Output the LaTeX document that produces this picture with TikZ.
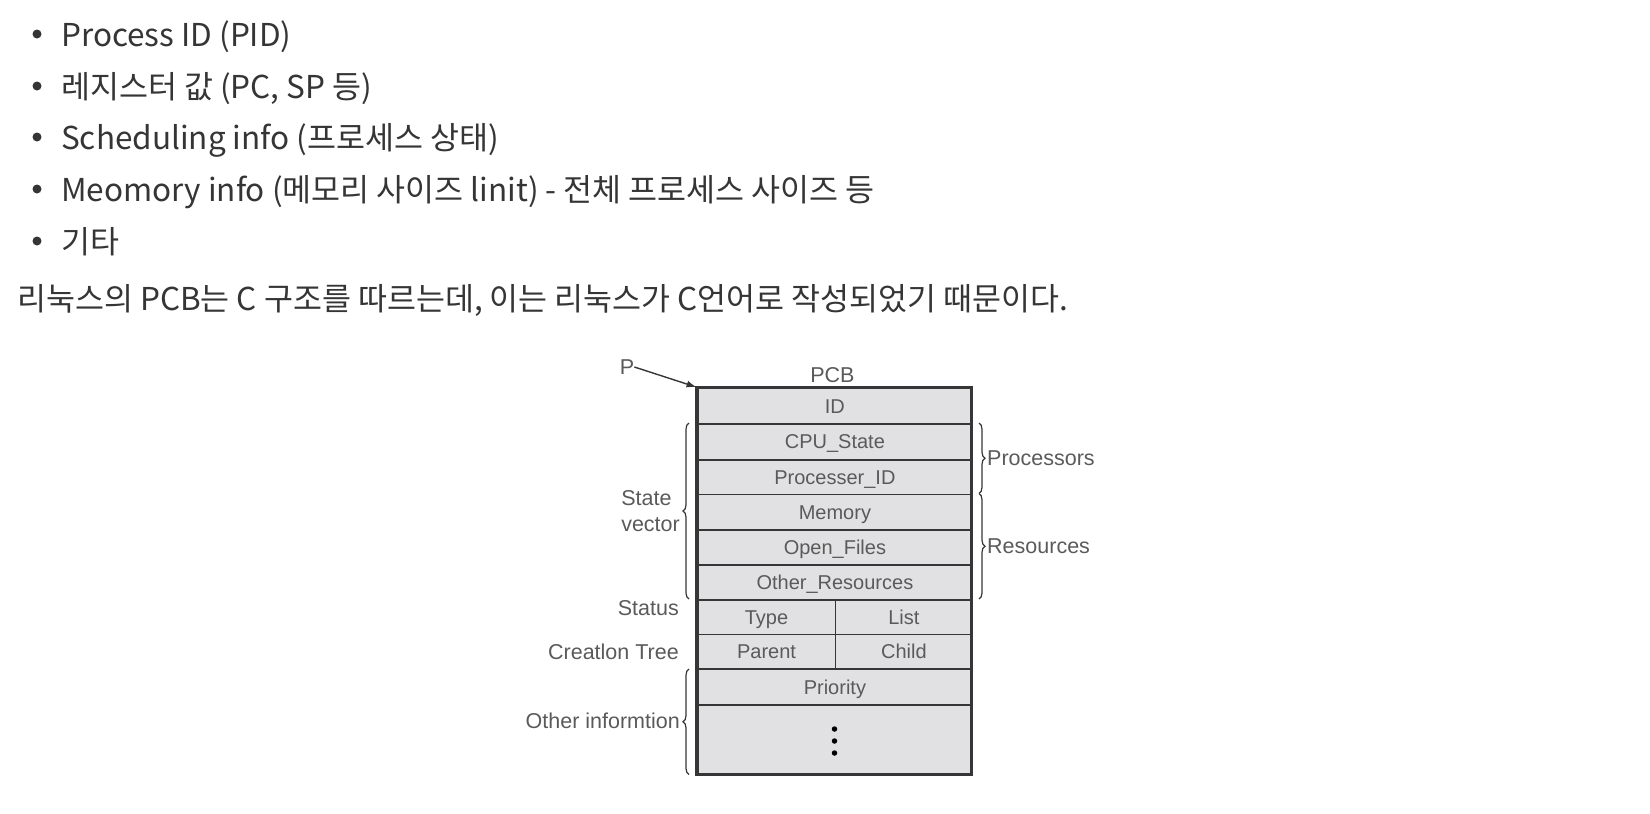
\documentclass[tikz,border=0pt]{standalone}
\usepackage{fontspec}
\setmainfont{Liberation Sans}
\newfontfamily\kr{Noto Sans CJK KR}
\usetikzlibrary{decorations.pathreplacing,arrows.meta}
\definecolor{cellfill}{HTML}{E1E1E3}
\definecolor{cellline}{HTML}{363636}
\definecolor{lbl}{HTML}{5A5A5A}
\definecolor{txt}{HTML}{353535}
\begin{document}
\begin{tikzpicture}[x=1pt,y=-1pt,
  toptext/.style={anchor=base west,inner sep=0pt,font=\kr\fontsize{31.5}{36}\selectfont,text=txt},
  bul/.style={circle,fill=txt,inner sep=0pt,minimum size=9pt},
  cell/.style={draw=cellline,line width=1.9pt,fill=cellfill,inner sep=0pt,anchor=north west,
    font=\fontsize{20}{24}\selectfont,text=lbl,text height=16pt,text depth=2pt},
  side/.style={font=\fontsize{21.5}{26}\selectfont,text=lbl,inner sep=0pt},
  brc/.style={draw=cellline,line width=1.2pt,decorate,decoration={brace,amplitude=6pt}},
  dotc/.style={circle,fill=black,inner sep=0pt,minimum size=5.5pt}
]
\useasboundingbox (0,0) rectangle (1650,814);

% bullet list
\node[bul] (b1) at (37,34) {};
\node[toptext] (t1) at (61,46) {Process ID (PID)};
\node[bul] (b2) at (37,86) {};
\node[toptext] (t2) at (61,98) {레지스터 값 (PC, SP 등)};
\node[bul] (b3) at (37,137) {};
\node[toptext] (t3) at (61,149) {Scheduling info (프로세스 상태)};
\node[bul] (b4) at (37,189) {};
\node[toptext] (t4) at (61,201) {Meomory info (메모리 사이즈 linit) - 전체 프로세스 사이즈 등};
\node[bul] (b5) at (37,241) {};
\node[toptext] (t5) at (61,253) {기타};
\node[toptext] (par) at (17,310) {리눅스의 PCB는 C 구조를 따르는데, 이는 리눅스가 C언어로 작성되었기 때문이다.};

% PCB table
\node[cell,minimum width=274.7pt,minimum height=35.8pt] (id) at (696.6,387.2) {ID};
\node[cell,minimum width=274.7pt,minimum height=35.8pt] (cpu) at (696.6,423.0) {CPU\_State};
\node[cell,minimum width=274.7pt,minimum height=34.7pt] (proc) at (696.6,458.8) {Processer\_ID};
\node[cell,minimum width=274.7pt,minimum height=35.8pt] (mem) at (696.6,493.5) {Memory};
\node[cell,minimum width=274.7pt,minimum height=34.7pt] (files) at (696.6,529.3) {Open\_Files};
\node[cell,minimum width=274.7pt,minimum height=34.8pt] (other) at (696.6,564.0) {Other\_Resources};
\node[cell,minimum width=137.9pt,minimum height=34.7pt] (type) at (696.6,598.8) {Type};
\node[cell,minimum width=136.8pt,minimum height=34.7pt] (list) at (834.5,598.8) {List};
\node[cell,minimum width=137.9pt,minimum height=34.7pt] (parent) at (696.6,633.5) {Parent};
\node[cell,minimum width=136.8pt,minimum height=34.7pt] (child) at (834.5,633.5) {Child};
\node[cell,minimum width=274.7pt,minimum height=35.8pt] (prio) at (696.6,668.2) {Priority};
\node[cell,minimum width=274.7pt,minimum height=70.5pt] (more) at (696.6,704.0) {};
\draw[draw=cellline,line width=2.6pt] (696.6,387.2) rectangle (971.3,774.5);
\node[dotc] (d1) at (834.5,729) {};
\node[dotc] (d2) at (834.5,741) {};
\node[dotc] (d3) at (834.5,753) {};

% title and pointer
\node[side] (pcb) at (832.4,375) {PCB};
\node[side] (p) at (627,367) {P};
\coordinate (corner) at (696.6,387.2);
\draw[draw=cellline,line width=1.4pt,-{Latex[length=10pt,width=7pt]}] (p.east) -- (corner);

% left braces and labels
\coordinate (svb) at (689,599);
\coordinate (svt) at (689,423);
\draw[brc] (svb) -- (svt);
\node[side,align=left,anchor=east] (sv) at (680,511) {State\\vector};
\node[side,anchor=east] (status) at (679,608) {Status};
\node[side,anchor=east] (ctree) at (679,652) {Creatlon Tree};
\coordinate (oib) at (689,774.5);
\coordinate (oit) at (689,669);
\draw[brc] (oib) -- (oit);
\node[side,anchor=east] (oi) at (680,721) {Other informtion};

% right braces and labels
\coordinate (prt) at (979,423);
\coordinate (prb) at (979,493.5);
\draw[brc] (prt) -- (prb);
\node[side,anchor=west] (procs) at (987,458) {Processors};
\coordinate (rst) at (979,493.5);
\coordinate (rsb) at (979,599);
\draw[brc] (rst) -- (rsb);
\node[side,anchor=west] (res) at (987,546) {Resources};
\end{tikzpicture}
\end{document}
